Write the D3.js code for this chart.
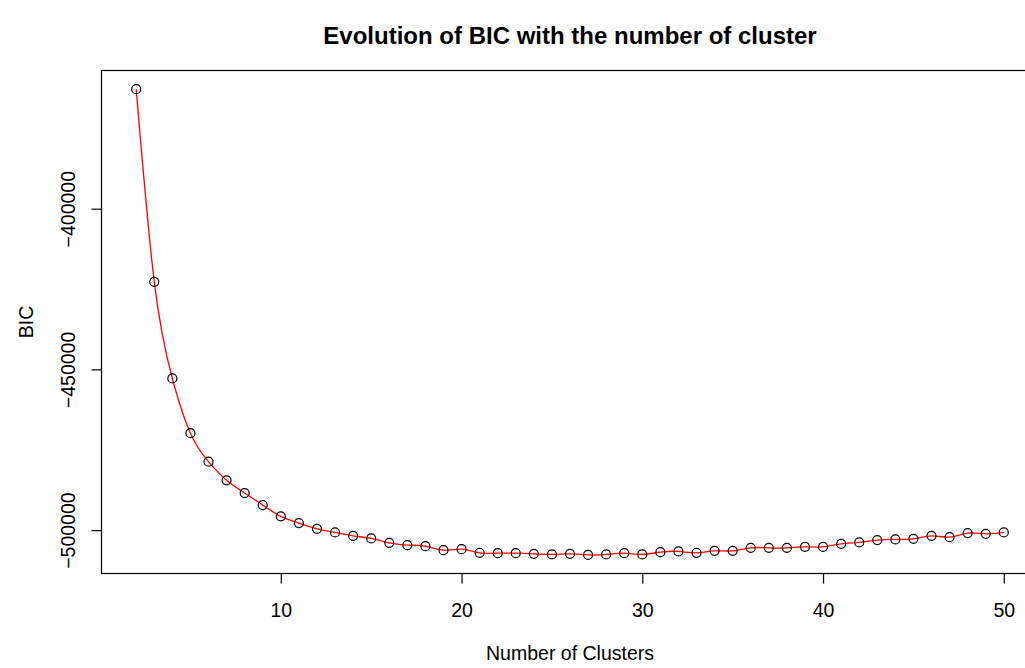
<!DOCTYPE html>
<html>
<head>
<meta charset="utf-8">
<script src="https://cdn.jsdelivr.net/npm/d3@7"></script>
<style>
  html, body { margin: 0; padding: 0; background: #fff; }
  svg { display: block; font-family: "Liberation Sans", Arial, Helvetica, sans-serif; }
</style>
</head>
<body>
<svg id="chart" width="1025" height="668"></svg>
<script>
const clusters = [2,3,4,5,6,7,8,9,10,11,12,13,14,15,16,17,18,19,20,21,22,23,24,25,26,
  27,28,29,30,31,32,33,34,35,36,37,38,39,40,41,42,43,44,45,46,47,48,49,50];
const bic = [-362800,-422760,-452820,-469840,-478700,-484500,-488460,-492200,-495720,
  -497810,-499590,-500710,-501770,-502580,-503950,-504670,-504980,-506230,-505920,
  -507070,-507170,-507170,-507380,-507570,-507380,-507700,-507570,-507170,-507570,
  -506850,-506640,-507070,-506450,-506450,-505510,-505510,-505510,-505200,-505200,
  -504270,-503830,-503110,-502890,-502710,-501770,-502180,-500930,-501150,-500710];
const xTicks = [10,20,30,40,50];
const yTicks = [-400000,-450000,-500000];
const titleText = "Evolution of BIC with the number of cluster";
const xLabel = "Number of Clusters";
const yLabel = "BIC";

(function () {
const svg = d3.select("#chart");
const mLeft = 101.5, mTop = 70.5, mRight = 1038.5, mBottom = 573.5;
const FONT = "Liberation Sans, Arial, sans-serif";

function padExtent(ext) {
  const p = (ext[1] - ext[0]) * 0.04;
  return [ext[0] - p, ext[1] + p];
}
const x = d3.scaleLinear().domain(padExtent(d3.extent(clusters))).range([mLeft, mRight]);
const y = d3.scaleLinear().domain(padExtent(d3.extent(bic))).range([mBottom, mTop]);

const data = clusters.map((c, i) => ({c, v: bic[i]}));
const fmt = v => String(v).replace("-", "\u2212");

// line
svg.append("path")
  .datum(data)
  .attr("fill", "none")
  .attr("stroke", "#ff0000")
  .attr("stroke-width", 1.3)
  .attr("d", d3.line().x(d => x(d.c)).y(d => y(d.v)).curve(d3.curveNatural));

// points
svg.append("g").selectAll("circle").data(data).join("circle")
  .attr("cx", d => x(d.c)).attr("cy", d => y(d.v)).attr("r", 4.5)
  .attr("fill", "none").attr("stroke", "#000").attr("stroke-width", 1.2);

// box
svg.append("rect")
  .attr("x", mLeft).attr("y", mTop).attr("width", mRight - mLeft).attr("height", mBottom - mTop)
  .attr("fill", "none").attr("stroke", "#000").attr("stroke-width", 1.2);

// x axis
const xa = svg.append("g").attr("transform", `translate(0,${mBottom})`)
  .call(d3.axisBottom(x).tickValues(xTicks).tickSize(10).tickSizeOuter(0).tickPadding(0).tickFormat(d3.format("d")));
xa.select(".domain").remove();
xa.selectAll(".tick line").attr("stroke", "#000").attr("stroke-width", 1.2);
xa.selectAll(".tick text").attr("font-size", 19.5).attr("fill", "#000")
  .attr("dy", null).attr("y", 43.5).attr("font-family", FONT);

// y axis
const ya = svg.append("g").attr("transform", `translate(${mLeft},0)`)
  .call(d3.axisLeft(y).tickValues(yTicks).tickSize(10).tickSizeOuter(0).tickFormat(fmt));
ya.select(".domain").remove();
ya.selectAll(".tick line").attr("stroke", "#000").attr("stroke-width", 1.2);
ya.selectAll(".tick text")
  .attr("font-size", 19.5).attr("fill", "#000").attr("font-family", FONT)
  .attr("x", null).attr("dy", null)
  .attr("text-anchor", "middle")
  .attr("transform", "translate(-26.5,0) rotate(-90)");

// titles
svg.append("text").attr("x", (mLeft + mRight) / 2).attr("y", 43.5)
  .attr("text-anchor", "middle").attr("font-weight", "bold").attr("font-size", 24)
  .text(titleText);
svg.append("text").attr("x", (mLeft + mRight) / 2).attr("y", 660)
  .attr("text-anchor", "middle").attr("font-size", 19.5).text(xLabel);
svg.append("text").attr("transform", `translate(32.5,${(mTop + mBottom) / 2}) rotate(-90)`)
  .attr("text-anchor", "middle").attr("font-size", 19.5).text(yLabel);
})();
</script>
</body>
</html>
